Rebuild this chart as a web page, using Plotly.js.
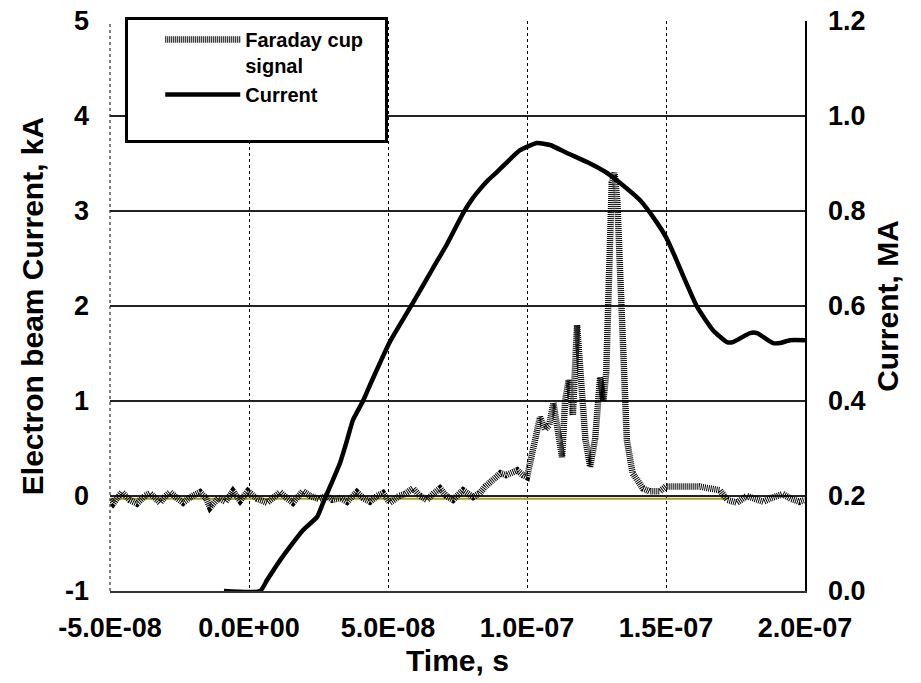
<!DOCTYPE html>
<html>
<head>
<meta charset="utf-8">
<script src="https://cdn.plot.ly/plotly-3.0.1.min.js"></script>
<style>html,body{margin:0;padding:0;background:#fff;}#chart{width:921px;height:683px;}</style>
</head>
<body>
<div id="chart"></div>
<script>
// Time in ns
const faradayTime = [-50,-48.9,-45.7,-43,-40.3,-37.5,-35.6,-33.5,-32,-30,-28.4,-26,-23.7,-21,-19.5,-17.6,-15.5,-14,-11,-8.5,-5.8,-3.2,-0.4,3,6.5,9,11.2,13.5,15.8,19.4,22,25,28,30,33,35.3,38.8,41,43.5,46,48.2,50.7,54,56,59,61.5,64,66.5,68.7,71,73.4,75.5,77,80.6,83,85,87,89,90.5,92.5,94.5,96.5,98.5,100,101.5,103,104.7,106.5,108,109.5,111,112.6,113.7,115,116.5,118,119.5,121,122.7,124.5,126.3,127.5,128.5,129.5,130.5,131.5,132.5,133.5,134.6,135.9,138,141.7,144,147.8,150,155,158,162,165,169.4,172,175.5,179,182,185,188,192,195,198,200];
const faradayKA = [-0.04,-0.08,0.04,-0.04,-0.08,0.0,0.03,-0.03,-0.07,0.0,0.04,-0.02,-0.07,-0.01,0.01,0.04,-0.02,-0.12,-0.02,-0.06,0.05,-0.05,0.05,-0.03,-0.07,-0.01,0.04,-0.02,-0.07,0.05,0.0,-0.03,0.0,-0.04,-0.02,-0.06,0.04,-0.02,-0.06,0.0,0.03,-0.07,0.0,0.02,0.08,0.0,-0.04,0.03,0.08,0.0,-0.04,0.02,0.06,-0.01,0.03,0.1,0.15,0.2,0.24,0.22,0.25,0.27,0.22,0.2,0.4,0.6,0.83,0.7,0.75,0.98,0.7,0.41,1.0,1.22,0.85,1.8,1.2,0.6,0.31,0.6,1.25,1.0,1.3,2.5,3.3,3.4,3.1,2.35,1.29,0.59,0.24,0.08,0.05,0.05,0.1,0.11,0.1,0.1,0.08,0.06,-0.04,-0.07,0.0,-0.03,-0.06,-0.02,0.02,-0.03,-0.06,-0.04];

const currentTime = [-9,4,6.5,11.2,14.7,19.4,24.5,26.6,29.1,32.7,35.3,37.4,41,44,47.1,50.7,59,66.2,71.2,77,80,83.1,86,89.2,97.5,103.6,108.3,114.4,121.6,128.8,133.5,140.6,146.8,150,153,156.8,161.2,166.9,171.9,174.1,180.2,182.7,188.5,191,194.6,200];
const currentMA = [0,0,0.023,0.065,0.093,0.128,0.156,0.185,0.219,0.269,0.318,0.36,0.40,0.44,0.48,0.525,0.607,0.68,0.73,0.795,0.823,0.846,0.865,0.882,0.928,0.943,0.939,0.922,0.903,0.88,0.859,0.823,0.775,0.745,0.707,0.655,0.598,0.549,0.524,0.524,0.543,0.543,0.522,0.522,0.528,0.528];

const baselineTime = [-50,172];
const baselineKA = [-0.03,-0.03];

const xTickVals = [-50,0,50,100,150,200];
const xTickText = ['-5.0E-08','0.0E+00','5.0E-08','1.0E-07','1.5E-07','2.0E-07'];
const yTickVals = [-1,0,1,2,3,4,5];
const yTickText = ['-1','0','1','2','3','4','5'];

const FONT = 'Liberation Sans, Arial, sans-serif';

const traces = [
  {x: baselineTime, y: baselineKA, type:'scatter', mode:'lines', showlegend:false,
   line:{color:'#a8a020', width:2}, hoverinfo:'skip'},
  {x: faradayTime, y: faradayKA, type:'scatter', mode:'lines', name:'Faraday cup&nbsp;&nbsp;&nbsp;<br>signal',
   line:{color:'#000', width:6.5, dash:'1px,1px'}},
  {x: currentTime, y: currentMA, type:'scatter', mode:'lines', name:'Current<br>&nbsp;', yaxis:'y2',
   line:{color:'#000', width:4.5, shape:'spline', smoothing:0.5}}
];

const layout = {
  width:921, height:683,
  margin:{l:110, r:116, t:21, b:92},
  paper_bgcolor:'#fff', plot_bgcolor:'#fff',
  font:{family:FONT, size:27, color:'#000', weight:'bold'},
  showlegend:true,
  legend:{x:0.0216, y:1.007, xanchor:'left', yanchor:'top', bgcolor:'#fff',
    bordercolor:'#000', borderwidth:3, font:{family:FONT, size:20, color:'#000', weight:'bold'},
    valign:'top', itemwidth:75, tracegroupgap:0,
    title:{text:'&nbsp;&nbsp;&nbsp;&nbsp;', side:'left', font:{family:FONT, size:20}}},
  shapes:[{type:'line', xref:'paper', yref:'paper', x0:0, x1:0, y0:0, y1:1,
    line:{color:'#000', width:1, dash:'dot'}, layer:'below'}],
  xaxis:{range:[-50,200], tickvals:xTickVals, ticktext:xTickText, ticks:'',
    showgrid:true, gridcolor:'#000', gridwidth:1, griddash:'dot', zeroline:false,
    showline:true, linecolor:'#333', linewidth:2, ticklabelstandoff:12,
    title:{text:'Time, s', font:{family:FONT, size:30, weight:'bold'}, standoff:8}},
  yaxis:{range:[-1,5], tickvals:yTickVals, ticktext:yTickText, ticks:'', showgrid:true, gridcolor:'#222', gridwidth:1.5,
    zeroline:false, showline:false, ticklabelstandoff:20,
    title:{text:'Electron beam Current, kA', font:{family:FONT, size:30, weight:'bold'}, standoff:12}},
  yaxis2:{range:[0,1.2], dtick:0.2, tick0:0, tickformat:'.1f', overlaying:'y', side:'right',
    ticks:'', showgrid:false, zeroline:false, showline:true, linecolor:'#000', linewidth:1.5,
    ticklabelstandoff:16,
    title:{text:'Current, MA', font:{family:FONT, size:30, weight:'bold'}, standoff:12}}
};

Plotly.newPlot('chart', traces, layout, {displayModeBar:false, staticPlot:true});
</script>
</body>
</html>
